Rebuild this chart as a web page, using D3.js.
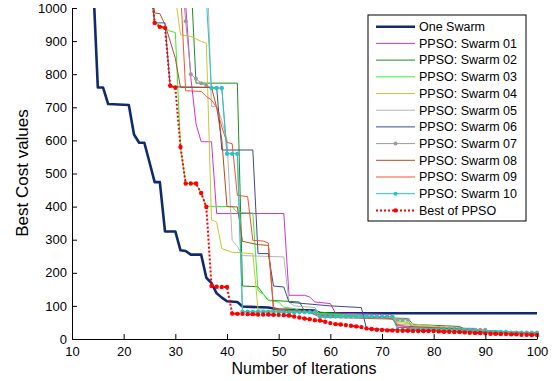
<!DOCTYPE html>
<html>
<head>
<meta charset="utf-8">
<script src="https://cdn.jsdelivr.net/npm/d3@7"></script>
<style>
  body { margin: 0; background: #fff; }
  svg { display: block; font-family: "Liberation Sans", Arial, sans-serif; }
  .axis path, .axis line { stroke: #000; }
  .axis text { fill: #000; font-size: 13px; }
</style>
</head>
<body>
<svg id="chart" width="556" height="381"></svg>
<script>
// tick values
const xTicks = [10, 20, 30, 40, 50, 60, 70, 80, 90, 100];
const yTicks = [0, 100, 200, 300, 400, 500, 600, 700, 800, 900, 1000];

// series as [iteration, best cost] breakpoints
const oneSwarm = [[14,1110],[15,760],[16,760],[17,710],[21,707],[22,618],[23,593],[24,593],[25,534],[26,474],[27,474],
  [28,325],[30,325],[31,268],[32,266],[33,255],[35,255],[36,185],[37,169],[38,138],[39,125],[40,114],[42,112],
  [43,98],[48,95],[50,89],[57,86],[58,78],[100,78]];
const swarm01 = [[31,1200],[32,1010],[33,790],[34,650],[35,596],[37,596],[38,379],[51,379],[52,132],[55,132],[56,127],
  [57,112],[60,107],[61,78],[72,74],[73,35],[88,32],[90,20],[100,18]];
const swarm02 = [[33,1097],[34,773],[42,773],[43,160],[46,158],[47,136],[48,117],[54,112],[55,85],[62,76],[66,66],
  [75,62],[76,44],[85,38],[86,30],[90,26],[100,18]];
const swarm03 = [[25,1100],[26,955],[29,930],[30,926],[31,580],[32,470],[34,470],[35,441],[36,401],[41,400],[42,382],
  [45,381],[46,146],[47,136],[48,117],[50,112],[51,96],[53,92],[55,80],[72,66],[73,55],[75,50],[76,35],[90,22],[100,16]];
const swarm04 = [[30,1035],[31,919],[33,914],[35,899],[36,894],[37,360],[38,353],[39,273],[41,262],[45,258],[46,88],
  [50,85],[56,80],[58,70],[72,64],[73,50],[90,24],[100,18]];
const swarm05 = [[36,1200],[37,702],[38,702],[39,660],[40,600],[41,298],[42,280],[43,252],[51,248],[52,112],[53,100],
  [57,95],[58,72],[72,62],[73,45],[90,24],[100,18]];
const swarm06 = [[25,1100],[26,955],[28,955],[29,762],[38,760],[39,571],[45,571],[46,258],[48,258],[49,160],[51,157],
  [52,111],[60,100],[66,95],[67,31],[100,15]];
const swarm08 = [[25,1100],[26,985],[27,983],[28,950],[29,900],[30,848],[31,760],[37,760],[38,700],[39,600],[40,400],
  [42,399],[43,295],[46,285],[48,283],[49,90],[55,85],[58,72],[70,65],[72,60],[73,40],[85,30],[90,22],[100,18]];
const swarm09 = [[31,1060],[32,750],[35,748],[36,733],[37,722],[38,700],[39,640],[40,594],[41,590],[42,434],[44,430],
  [45,298],[47,296],[48,290],[49,92],[56,80],[58,66],[72,60],[73,45],[76,28],[90,20],[100,16]];

// marker series: one value per iteration from the start iteration
const swarm07Start = 31;
const swarm07 = [1150,960,800,786,773,765,758,758,758,560,560,560,
  82,82,82,82,82,82,82,82,81,81,81,81,81,81,81,
  68,68,68,68,68,68,68,68,68,68,68,68,68,68,68,
  58,58,58,32,32,32,32,32,32,32,32,32,32,28,28,28,28,28,
  20,20,20,20,20,20,20,20,20,20];
const swarm10Start = 36;
const swarm10 = [1030,758,758,758,560,560,560,
  82,82,82,82,82,82,82,82,81,81,81,81,81,81,81,
  68,68,68,68,68,68,68,68,68,68,68,68,68,68,68,
  29,29,29,29,29,29,29,29,27,27,27,27,27,27,27,27,
  22,22,22,22,22,22,18,18,18,18,18,18];
const bestStart = 25;
const bestOfPpso = [1100,955,943,940,765,760,580,470,470,470,441,399,160,158,157,157,
  77,76,76,75,75,74,74,74,73,73,72,71,68,65,62,60,57,56,52,48,45,44,42,40,38,36,32,30,28,27,
  26,26,25,25,25,24,24,24,24,24,23,22,22,21,21,20,19,18,18,17,16,16,15,15,14,14,13,13,12,12];

const toPairs = (start, vals) => vals.map((v, k) => [start + k, v]);

const series = [
  { name: 'One Swarm', data: oneSwarm, color: '#102a6c', width: 2.6 },
  { name: 'PPSO: Swarm 01', data: swarm01, color: '#cc33cc', width: 1 },
  { name: 'PPSO: Swarm 02', data: swarm02, color: '#1f8c1f', width: 1 },
  { name: 'PPSO: Swarm 03', data: swarm03, color: '#33f033', width: 1 },
  { name: 'PPSO: Swarm 04', data: swarm04, color: '#c8c836', width: 1 },
  { name: 'PPSO: Swarm 05', data: swarm05, color: '#b4b4b4', width: 1 },
  { name: 'PPSO: Swarm 06', data: swarm06, color: '#3a4a8c', width: 1 },
  { name: 'PPSO: Swarm 07', data: toPairs(swarm07Start, swarm07), color: '#9a9a9a', width: 1, marker: 2 },
  { name: 'PPSO: Swarm 08', data: swarm08, color: '#ad4f1e', width: 1 },
  { name: 'PPSO: Swarm 09', data: swarm09, color: '#ee5430', width: 1 },
  { name: 'PPSO: Swarm 10', data: toPairs(swarm10Start, swarm10), color: '#1ec8c8', width: 1, marker: 2 },
  { name: 'Best of PPSO', data: toPairs(bestStart, bestOfPpso), color: '#ff0000', width: 2, dash: '2,2', marker: 2.2 },
];

const svg = d3.select('#chart');
const plot = { left: 72, right: 537, top: 8, bottom: 339 };

const x = d3.scaleLinear().domain([10, 100]).range([plot.left, plot.right]);
const y = d3.scaleLinear().domain([0, 1000]).range([plot.bottom, plot.top]);

svg.append('defs').append('clipPath').attr('id', 'clip')
  .append('rect')
  .attr('x', plot.left).attr('y', plot.top)
  .attr('width', plot.right - plot.left + 3).attr('height', plot.bottom - plot.top);

const line = d3.line().x(d => x(d[0])).y(d => y(d[1]));
const lines = svg.append('g').attr('clip-path', 'url(#clip)');

series.forEach(s => {
  lines.append('path')
    .datum(s.data)
    .attr('fill', 'none')
    .attr('stroke', s.color)
    .attr('stroke-width', s.width)
    .attr('stroke-dasharray', s.dash || null)
    .attr('stroke-linejoin', 'round')
    .attr('d', line);
  if (s.marker) {
    lines.append('g').selectAll('circle')
      .data(s.data)
      .join('circle')
      .attr('cx', d => x(d[0]))
      .attr('cy', d => y(d[1]))
      .attr('r', s.marker)
      .attr('fill', s.color);
  }
});

// axes, ticks pointing inward like matlab
svg.append('g')
  .attr('class', 'axis')
  .attr('transform', `translate(0, ${plot.bottom})`)
  .call(d3.axisBottom(x).tickValues(xTicks).tickFormat(d3.format('d'))
    .tickSizeInner(-5).tickSizeOuter(0).tickPadding(8));
svg.append('g')
  .attr('class', 'axis')
  .attr('transform', `translate(${plot.left}, 0)`)
  .call(d3.axisLeft(y).tickValues(yTicks).tickFormat(d3.format('d'))
    .tickSizeInner(-5).tickSizeOuter(0).tickPadding(5));

svg.append('text')
  .attr('x', 304).attr('y', 374)
  .attr('text-anchor', 'middle')
  .style('font-size', '16px')
  .text('Number of Iterations');
svg.append('text')
  .attr('transform', 'translate(28, 173) rotate(-90)')
  .attr('text-anchor', 'middle')
  .style('font-size', '17px')
  .text('Best Cost values');

// legend
const legend = svg.append('g').attr('transform', 'translate(368, 15)');
legend.append('rect')
  .attr('width', 158).attr('height', 206)
  .attr('fill', '#fff').attr('stroke', '#000');
const rows = legend.selectAll('.row')
  .data(series)
  .join('g')
  .attr('class', 'row')
  .attr('transform', (d, i) => `translate(0, ${11.7 + i * 16.7})`);
rows.append('line')
  .attr('x1', 8).attr('x2', 47)
  .attr('stroke', d => d.color)
  .attr('stroke-width', d => d.width)
  .attr('stroke-dasharray', d => d.dash || null);
rows.filter(d => d.marker).append('circle')
  .attr('cx', 27.5).attr('r', d => d.marker)
  .attr('fill', d => d.color);
rows.append('text')
  .attr('x', 51).attr('dy', '0.35em')
  .style('font-size', '12.5px')
  .text(d => d.name);
</script>
</body>
</html>
